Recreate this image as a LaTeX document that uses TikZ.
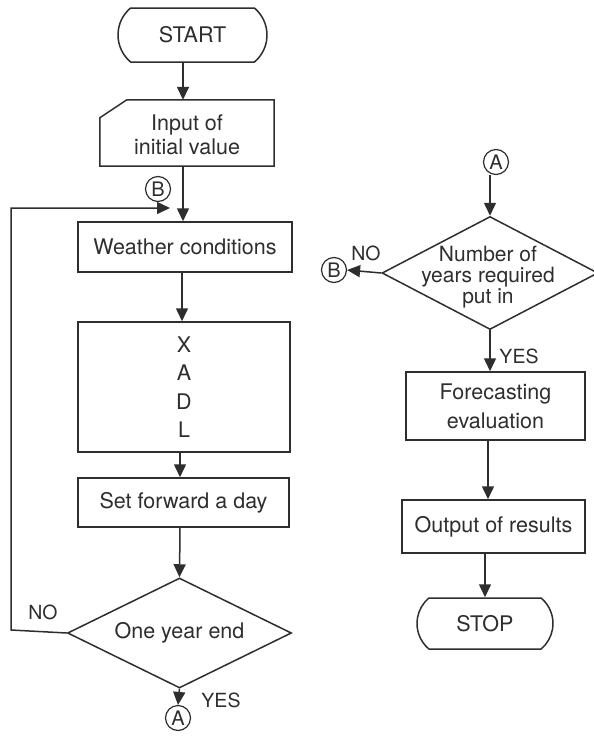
\documentclass[tikz,border=0pt]{standalone}
\usepackage{fontspec}
\setmainfont{TeX Gyre Heros}
\usetikzlibrary{shapes.misc,shapes.geometric,arrows.meta,calc}
\definecolor{ln}{HTML}{2E2E2E}
\tikzset{
  base/.style={draw=ln, line width=1.5pt, text=ln, inner sep=0pt, font=\fontsize{21.5}{24}\selectfont},
  proc/.style={base, rectangle},
  term/.style={base, rounded rectangle, rounded rectangle arc length=100},
  dec/.style={base, diamond},
  conn/.style={base, circle, line width=1.2pt, minimum size=25pt, font=\fontsize{20}{20}\selectfont},
  txt/.style={text=ln, inner sep=0pt, font=\fontsize{21.5}{24}\selectfont},
  lbl/.style={text=ln, inner sep=0pt, font=\fontsize{19.5}{19.5}\selectfont},
  arr/.style={draw=ln, line width=1.5pt, -{Triangle[length=13pt,width=12pt]}},
  plain/.style={draw=ln, line width=1.5pt}
}
\begin{document}
\begin{tikzpicture}[x=1pt,y=-1pt]
\useasboundingbox[fill=white] (0,0) rectangle (594,737);
% ---------- left column ----------
\node[term, minimum width=149pt, minimum height=54pt] (start) at (192.5,35) {START};
\node[minimum width=174pt, minimum height=66pt, inner sep=0pt] (input) at (187,133) {};
\draw[plain] (input.south west) -- ($(input.north west)+(0,18)$) -- ($(input.north west)+(27,0)$) -- (input.north east) -- (input.south east) -- cycle;
\node[txt, align=center] (inputt) at (187,135) {Input of\\initial value};
\node[proc, minimum width=214pt, minimum height=50pt] (weather) at (185,247) {Weather conditions};
\node[proc, minimum width=212pt, minimum height=130pt, align=center, font=\fontsize{21.5}{28.5}\selectfont] (xadl) at (184,387) {X\\A\\D\\L};
\node[proc, minimum width=211pt, minimum height=49pt] (setf) at (183.5,502.5) {Set forward a day};
\node[dec, minimum width=224pt, minimum height=110pt, aspect=2] (d1) at (179.5,633) {One year end};
\node[conn] (Bl) at (158,189) {B};
\node[conn] (Al) at (178,718) {A};
\node[lbl] (nol) at (43,612) {NO};
\node[lbl] (yesl) at (221,700) {YES};
\coordinate (loopin) at (170,208);

\draw[arr] (start.south -| 183,0) -- (input.north -| 183,0);
\draw[arr] (input.south -| 183,0) -- (weather.north -| 183,0);
\draw[arr] (weather.south -| 182,0) -- (xadl.north -| 182,0);
\draw[arr] (xadl.south -| 180,0) -- (setf.north -| 180,0);
\draw[arr] (setf.south -| 180,0) -- (d1.north);
\draw[arr] (d1.south) -- (Al.north);
\draw[arr] (d1.west) -- (11,630) |- (loopin);

% ---------- right column ----------
\node[conn] (Ar) at (496,162) {A};
\node[dec, minimum width=216pt, minimum height=113pt, aspect=1.9] (d2) at (490,273) {};
\node[txt, align=center, font=\fontsize{21}{21}\selectfont] (d2t) at (488,277) {Number of\\years required\\put in};
\node[conn] (Br) at (334,270) {B};
\node[lbl] (nor) at (366,253) {NO};
\node[lbl] (yesr) at (519,356) {YES};
\node[proc, minimum width=179pt, minimum height=68pt, align=center, font=\fontsize{21.5}{29}\selectfont] (fore) at (495.5,406) {Forecasting\\evaluation};
\node[proc, minimum width=183pt, minimum height=53pt] (outp) at (493.5,526.5) {Output of results};
\node[term, minimum width=136pt, minimum height=51pt] (stop) at (485,623.5) {STOP};

\draw[arr] (Ar.south -| d2.north) -- (d2.north);
\draw[arr] (d2.west) -- (Br.east);
\draw[arr] (d2.south) -- (d2.south |- fore.north);
\draw[arr] (fore.south -| 488,0) -- (outp.north -| 488,0);
\draw[arr] (outp.south -| 485,0) -- (stop.north -| 485,0);
\end{tikzpicture}
\end{document}
